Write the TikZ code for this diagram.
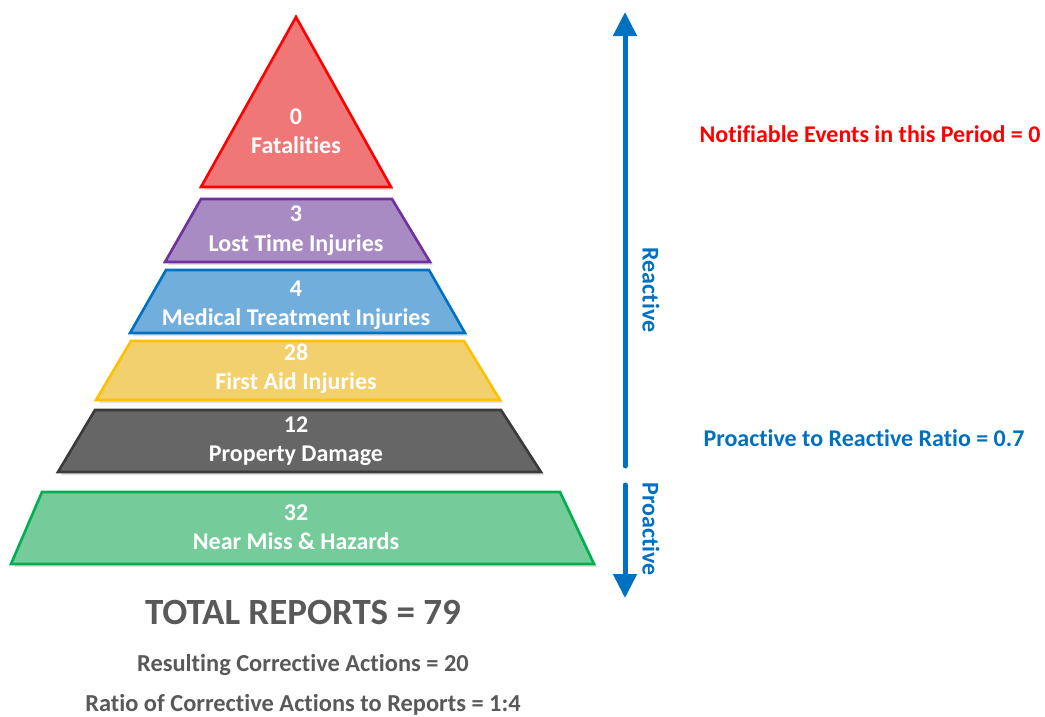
\documentclass[tikz,border=0pt]{standalone}
\usepackage{fontspec}
\setmainfont[Ligatures={NoCommon}]{Carlito}
\usetikzlibrary{arrows.meta}
\definecolor{redF}{HTML}{F07777}\definecolor{redS}{HTML}{FF0000}
\definecolor{purF}{HTML}{A98BC4}\definecolor{purS}{HTML}{7030A0}
\definecolor{bluF}{HTML}{72AEDC}\definecolor{bluS}{HTML}{0070C0}
\definecolor{yelF}{HTML}{F2D06E}\definecolor{yelS}{HTML}{FFC000}
\definecolor{gryF}{HTML}{666666}\definecolor{gryS}{HTML}{3A3A3A}
\definecolor{grnF}{HTML}{75CB9A}\definecolor{grnS}{HTML}{00B050}
\definecolor{txtG}{HTML}{595959}
\begin{document}
\begin{tikzpicture}[x=1pt,y=-1pt,
  tier/.style={line width=2.6pt,line join=miter},
  shadowed/.style={fill=black,opacity=0.12},
  lab/.style={text=white,font=\bfseries\fontsize{24}{24}\selectfont,inner sep=0pt,anchor=base},
  side/.style={font=\bfseries\fontsize{24}{24}\selectfont,inner sep=0pt,anchor=base},
  sumtxt/.style={text=txtG,font=\bfseries\fontsize{24.4}{24}\selectfont,inner sep=0pt,anchor=base},
  arr/.style={draw=bluS,line width=5pt,line cap=round,-{Triangle[width=23pt,length=24pt]}}]
\useasboundingbox (0,0) rectangle (1045,716);
% shadows
\fill[shadowed] (299,20) -- (394,190) -- (204,190) -- cycle;
\fill[shadowed] (204,202) -- (395,202) -- (433,265) -- (168,265) -- cycle;
\fill[shadowed] (169,273) -- (432,273) -- (468,336) -- (133,336) -- cycle;
\fill[shadowed] (134,344) -- (467,344) -- (503,403) -- (99,403) -- cycle;
\fill[shadowed] (98,413) -- (504,413) -- (544,475) -- (61,475) -- cycle;
\fill[shadowed] (45,495) -- (563,495) -- (597,567) -- (14,567) -- cycle;
% tiers
\draw[tier,draw=redS,fill=redF] (296,17) -- (391,187) -- (201,187) -- cycle;
\draw[tier,draw=purS,fill=purF] (201,199) -- (392,199) -- (430,262) -- (165,262) -- cycle;
\draw[tier,draw=bluS,fill=bluF] (166,270) -- (429,270) -- (465,333) -- (130,333) -- cycle;
\draw[tier,draw=yelS,fill=yelF] (131,341) -- (464,341) -- (500,400) -- (96,400) -- cycle;
\draw[tier,draw=gryS,fill=gryF] (95,410) -- (501,410) -- (541,472) -- (58,472) -- cycle;
\draw[tier,draw=grnS,fill=grnF] (42,492) -- (560,492) -- (594,564) -- (11,564) -- cycle;
% labels
\node[lab] (n0) at (296,124.5) {0};
\node[lab] (t0) at (296,153.5) {Fatalities};
\node[lab] (n1) at (296,221.5) {3};
\node[lab] (t1) at (296,251.5) {Lost Time Injuries};
\node[lab] (n2) at (296,296.5) {4};
\node[lab] (t2) at (296,325.5) {Medical Treatment Injuries};
\node[lab] (n3) at (296,360.5) {28};
\node[lab] (t3) at (296,389.5) {First Aid Injuries};
\node[lab] (n4) at (296,432.5) {12};
\node[lab] (t4) at (296,461.5) {Property Damage};
\node[lab] (n5) at (296,520.5) {32};
\node[lab] (t5) at (296,549.5) {Near Miss \& Hazards};
% arrows
\coordinate (rtop) at (625,12);
\coordinate (rbot) at (625,466);
\coordinate (ptop) at (625,485);
\coordinate (pbot) at (625,598);
\draw[arr] (rbot) -- (rtop);
\draw[arr] (ptop) -- (pbot);
\node[side,text=bluS,rotate=-90,anchor=center] (reac) at (651,290) {Reactive};
\node[side,text=bluS,rotate=-90,anchor=center] (proa) at (651,529) {Proactive};
% right texts
\node[side,text=redS] (notif) at (870,142.5) {Notifiable Events in this Period = 0};
\node[side,text=bluS] (ratio) at (864,446.5) {Proactive to Reactive Ratio = 0.7};
% bottom
\node[sumtxt,font=\bfseries\fontsize{37}{37}\selectfont] (total) at (303,624) {TOTAL REPORTS = 79};
\node[sumtxt] (rca) at (303,671) {Resulting Corrective Actions = 20};
\node[sumtxt] (rcr) at (303,711) {Ratio of Corrective Actions to Reports = 1:4};
\end{tikzpicture}
\end{document}
